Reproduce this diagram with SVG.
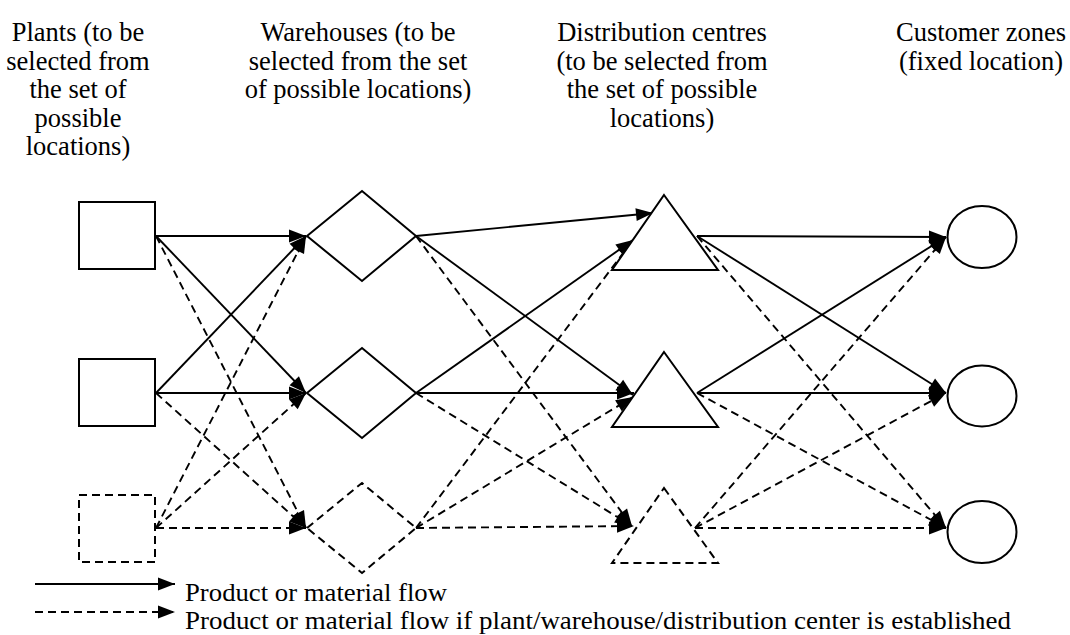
<svg xmlns="http://www.w3.org/2000/svg" width="1070" height="635" viewBox="0 0 1070 635">
<style>
text{font-family:"Liberation Serif","Times New Roman",serif;font-size:26.5px;fill:#000}
.h{text-anchor:middle}
.lg{font-size:24.5px}
.s{fill:#fff;stroke:#000;stroke-width:2}
.d{stroke-dasharray:8 5}
.c line{stroke:#000;stroke-width:1.9;marker-end:url(#ah)}
.c line.d{stroke-dasharray:8 5}
</style>
<defs>
<marker id="ah" markerUnits="userSpaceOnUse" markerWidth="17" markerHeight="13" refX="17" refY="6.5" orient="auto" overflow="visible">
<path d="M0,0 L17,6.5 L0,13 z" fill="#000"/>
</marker>
</defs>
<rect width="1070" height="635" fill="#fff"/>
<g id="headers">
<text class="h" x="78" y="41">Plants (to be</text>
<text class="h" x="78" y="69.5">selected from</text>
<text class="h" x="78" y="98">the set of</text>
<text class="h" x="78" y="126.5">possible</text>
<text class="h" x="78" y="155">locations)</text>
<text class="h" x="358" y="41">Warehouses (to be</text>
<text class="h" x="358" y="69.5">selected from the set</text>
<text class="h" x="358" y="98">of possible locations)</text>
<text class="h" x="662" y="41">Distribution centres</text>
<text class="h" x="662" y="69.5">(to be selected from</text>
<text class="h" x="662" y="98">the set of possible</text>
<text class="h" x="662" y="126.5">locations)</text>
<text class="h" x="981" y="41">Customer zones</text>
<text class="h" x="981" y="69.5">(fixed location)</text>
</g>
<g id="connectors" class="c">
<line x1="156" y1="236" x2="306" y2="236"/>
<line x1="156" y1="236" x2="306" y2="393"/>
<line class="d" x1="156" y1="236" x2="306" y2="528"/>
<line x1="156" y1="393" x2="306" y2="236"/>
<line x1="156" y1="393" x2="306" y2="393"/>
<line class="d" x1="156" y1="393" x2="306" y2="528"/>
<line class="d" x1="156" y1="528" x2="306" y2="236"/>
<line class="d" x1="156" y1="528" x2="306" y2="393"/>
<line class="d" x1="156" y1="528" x2="306" y2="528"/>
<line x1="416" y1="236" x2="653" y2="213"/>
<line x1="416" y1="236" x2="633" y2="395"/>
<line class="d" x1="416" y1="236" x2="632" y2="526"/>
<line x1="416" y1="393" x2="633" y2="240"/>
<line x1="416" y1="393" x2="634" y2="393"/>
<line class="d" x1="416" y1="393" x2="632" y2="526"/>
<line class="d" x1="416" y1="528" x2="633" y2="240"/>
<line class="d" x1="416" y1="528" x2="633" y2="397"/>
<line class="d" x1="416" y1="528" x2="634" y2="526"/>
<line x1="697" y1="236" x2="946" y2="237"/>
<line x1="697" y1="236" x2="946" y2="393"/>
<line class="d" x1="697" y1="236" x2="946" y2="528"/>
<line x1="697" y1="393" x2="946" y2="237"/>
<line x1="697" y1="393" x2="946" y2="393"/>
<line class="d" x1="697" y1="393" x2="946" y2="528"/>
<line class="d" x1="695" y1="528" x2="946" y2="237"/>
<line class="d" x1="695" y1="528" x2="946" y2="393"/>
<line class="d" x1="695" y1="528" x2="946" y2="528"/>
</g>
<g id="plant1"><rect class="s" x="79" y="202" width="76" height="67"/></g>
<g id="plant2"><rect class="s" x="79" y="359" width="76" height="67"/></g>
<g id="plant3"><rect class="s d" x="79" y="495" width="76" height="67"/></g>
<g id="warehouse1"><polygon class="s" points="307,236 362,191 416,236 362,281"/></g>
<g id="warehouse2"><polygon class="s" points="307,393 362,348 416,393 362,438"/></g>
<g id="warehouse3"><polygon class="s d" points="307,528 362,483 416,528 362,573"/></g>
<g id="dc1"><polygon class="s" points="664,195 718,270 612,270"/></g>
<g id="dc2"><polygon class="s" points="664,352 718,427 612,427"/></g>
<g id="dc3"><polygon class="s d" points="664,488 718,563 612,563"/></g>
<g id="customer1"><ellipse class="s" cx="982" cy="237" rx="34.5" ry="31"/></g>
<g id="customer2"><ellipse class="s" cx="982" cy="396" rx="34.5" ry="30.5"/></g>
<g id="customer3"><ellipse class="s" cx="982" cy="532" rx="34.5" ry="31"/></g>
<g id="legend" class="c">
<line x1="35" y1="584" x2="175" y2="584"/>
<line class="d" x1="35" y1="612" x2="175" y2="612"/>
<text class="lg" x="185" y="601" textLength="262" lengthAdjust="spacingAndGlyphs">Product or material flow</text>
<text class="lg" x="185" y="629" textLength="826" lengthAdjust="spacingAndGlyphs">Product or material flow if plant/warehouse/distribution center is established</text>
</g>
</svg>
